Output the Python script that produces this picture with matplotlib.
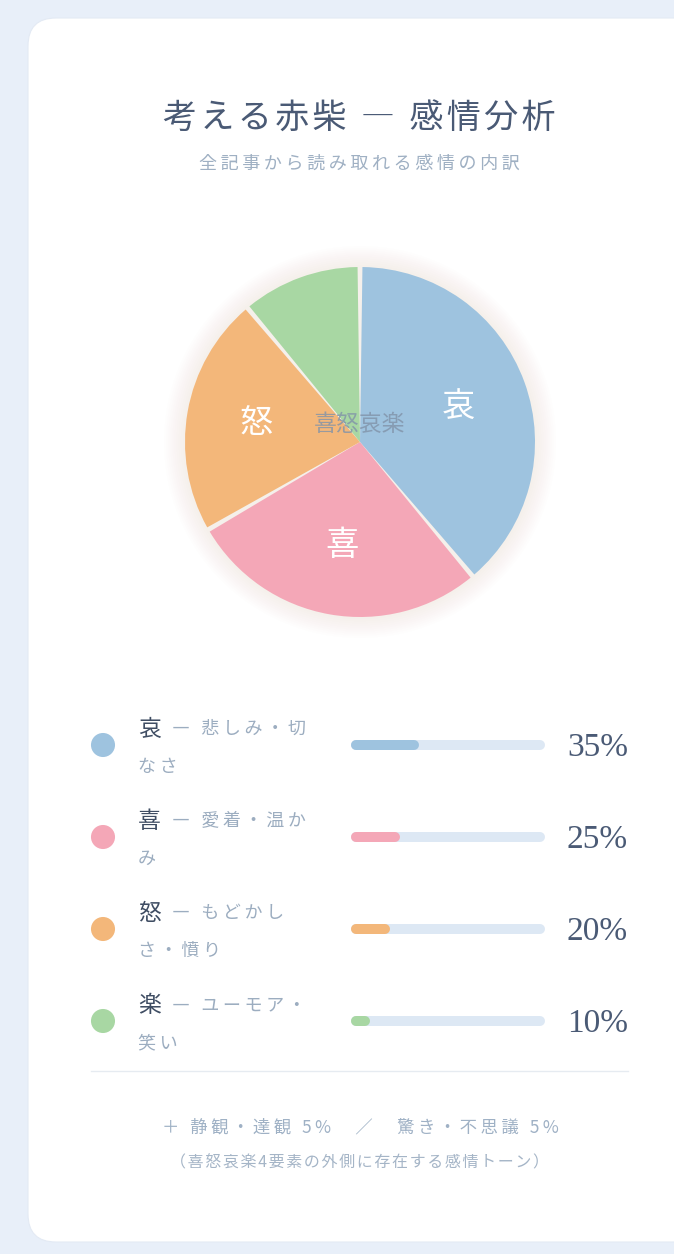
import matplotlib
matplotlib.use("Agg")
import matplotlib.pyplot as plt
from matplotlib.patches import FancyBboxPatch, Circle

plt.rcParams['font.family'] = ['Noto Sans CJK JP', 'DejaVu Sans']

# data
emotions = ['哀', '喜', '怒', '楽']
values = [35, 25, 20, 10]
desc_line1 = ['悲しみ・切', '愛着・温か', 'もどかし', 'ユーモア・']
desc_line2 = ['なさ', 'み', 'さ・憤り', '笑い']
colors = ['#9ec3df', '#f4a7b7', '#f3b77a', '#a8d7a3']
pie_labels = ['哀', '喜', '怒', '']
title = '考える赤柴 ― 感情分析'
subtitle = '全記事から読み取れる感情の内訳'
center_text = '喜怒哀楽'
footer1 = '＋ 静観・達観 5%\u3000／\u3000驚き・不思議 5%'
footer2 = '（喜怒哀楽4要素の外側に存在する感情トーン）'

W, H = 674, 1254
THIN = '\u2009'
HAIR = '\u200a'


def spaced(s, sep=THIN):
    return sep.join(s)


fig = plt.figure(figsize=(W / 100, H / 100), dpi=100)
fig.patch.set_facecolor('#e8eff9')

ax = fig.add_axes([0, 0, 1, 1])
ax.set_xlim(0, W)
ax.set_ylim(H, 0)
ax.axis('off')

# card
ax.add_patch(FancyBboxPatch((28, 18), 700, 1224, boxstyle='round,pad=0,rounding_size=28',
                            fc='white', ec='#e3eaf4', lw=0.8, zorder=1))

ax.text(359, 119, spaced(title, HAIR), ha='center', va='center', fontsize=24.5,
        color='#4a5a75', zorder=3)
ax.text(359, 164, spaced(subtitle), ha='center', va='center', fontsize=13,
        color='#9fb0c3', zorder=3)

# pie
cx, cy, r = 360, 442, 175
lim = 1.3
side = 2 * lim * r
pax = fig.add_axes([(cx - side / 2) / W, (H - cy - side / 2) / H, side / W, side / H])
for k in range(10, 0, -1):
    pax.add_patch(Circle((0, 0), 1.0 + k * 0.012, color='#d8c2a8', alpha=0.02, lw=0, zorder=0))
wedges, texts = pax.pie(values, labels=pie_labels, colors=colors, startangle=90,
                        counterclock=False, labeldistance=0.6, radius=1,
                        textprops=dict(color='white', fontsize=24))
for w in wedges:
    w.set_theta1(w.theta1 + 0.8)
    w.set_theta2(w.theta2 - 0.8)
    w.set_zorder(2)
for t in texts:
    t.set_ha('center')
    t.set_va('center')
pax.text(0, 0.1, center_text, ha='center', va='center', fontsize=16.5,
         color='#8193a9', alpha=0.8, zorder=4)
pax.set_xlim(-lim, lim)
pax.set_ylim(-lim, lim)
pax.axis('off')

# legend rows
row0, row_h = 745, 92
bar_left, bar_w = 351, 194
bax = fig.add_axes([bar_left / W, (H - (row0 - row_h / 2 + row_h * 4)) / H, bar_w / W, row_h * 4 / H])
bax.set_xlim(0, 100)
bax.set_ylim(3.5, -0.5)
bax.axis('off')
lw_px = 10
cap = lw_px / 2 / bar_w * 100
for i, (v, c) in enumerate(zip(values, colors)):
    bax.plot([cap, 100 - cap], [i, i], color='#dde8f4', lw=lw_px * 0.72,
             solid_capstyle='round', zorder=1)
    bax.plot([cap, v - cap], [i, i], color=c, lw=lw_px * 0.72,
             solid_capstyle='round', zorder=2)

for i, (e, v, c) in enumerate(zip(emotions, values, colors)):
    y = row0 + row_h * i
    ax.scatter([103], [y], s=300, color=c, edgecolors='none', zorder=3)
    ax.text(138, y - 16, e, ha='left', va='center', fontsize=16.5, color='#3f4d63', zorder=3)
    ax.text(172, y - 16, spaced('― ' + desc_line1[i]), ha='left', va='center',
            fontsize=13, color='#9cadc0', zorder=3)
    ax.text(138, y + 22, spaced(desc_line2[i]), ha='left', va='center',
            fontsize=13, color='#9cadc0', zorder=3)
    ax.text(628, y + 3, f'{v}%', ha='right', va='center', fontsize=24,
            family='Liberation Serif', color='#4a5a75', zorder=3)

ax.plot([91, 628], [1071, 1071], color='#e6ebf1', lw=1, zorder=2)

ax.text(360, 1127, spaced(footer1), ha='center', va='center', fontsize=12.5,
        color='#9fb1c5', zorder=3)
ax.text(360, 1163, spaced(footer2, HAIR), ha='center', va='center', fontsize=11.5,
        color='#a5b5c7', zorder=3)

fig.savefig('out.png', dpi=100, facecolor=fig.get_facecolor())
